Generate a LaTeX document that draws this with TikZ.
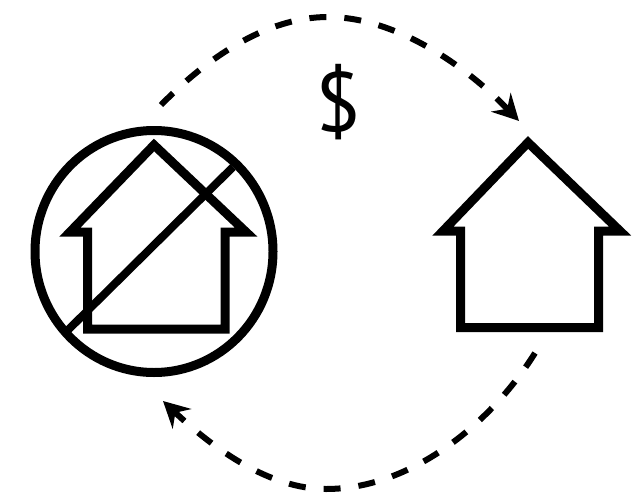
\documentclass[tikz,border=0pt]{standalone}
\usepackage{fontspec}
\setmainfont{PT Sans}
\usetikzlibrary{arrows.meta}
\tikzset{
  houseline/.style={line width=9pt, miter limit=10},
  swapline/.style={line width=6pt, dash pattern=on 17pt off 18pt, ->},
}
\begin{document}
\begin{tikzpicture}[x=1pt, y=-1pt, >={Stealth[length=26pt, width=27pt, inset=9pt]}]
  \useasboundingbox (0,0) rectangle (644,500);
  % left house, crossed out
  \draw[houseline] (87.5,329) -- (87.5,232) -- (70,232) -- (154,145) -- (246,232) -- (225,232) -- (225,329) -- cycle;
  \draw[line width=9pt] (154,251.5) ellipse [x radius=119, y radius=121];
  \draw[line width=8pt] (68,330) -- (233,167);
  % right house
  \draw[houseline] (460.5,327.5) -- (460.5,231) -- (443,231) -- (528,142.5) -- (620,231) -- (598.5,231) -- (598.5,327.5) -- cycle;
  % payment label
  \node[inner sep=0pt, font=\fontsize{84}{84}\selectfont] (dollar) at (338.5,102.5) {\$};
  % arcs between the houses
  \coordinate (topstart) at (161,105);
  \coordinate (toppeak) at (328,17);
  \coordinate (topend) at (519,121);
  \coordinate (botstart) at (535,353);
  \coordinate (botlow) at (326,489);
  \coordinate (botend) at (163,401);
  \draw[swapline] (topstart) .. controls (205,60) and (265,17) .. (toppeak) .. controls (395,17) and (465,65) .. (topend);
  \draw[swapline] (botstart) .. controls (490,425) and (410,489) .. (botlow) .. controls (270,489) and (215,450) .. (botend);
\end{tikzpicture}
\end{document}
